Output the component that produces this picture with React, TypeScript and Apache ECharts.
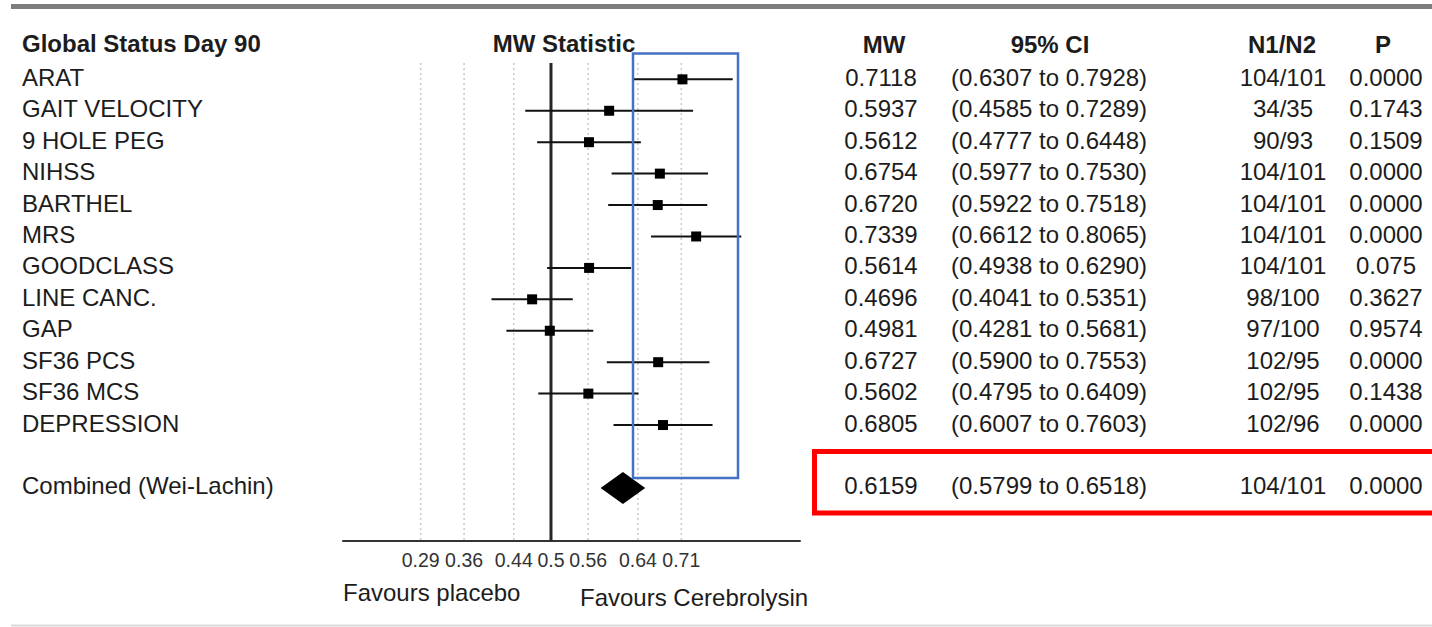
import React, { useEffect, useRef } from "react";
import * as echarts from "echarts";

const OUTCOMES = ["ARAT", "GAIT VELOCITY", "9 HOLE PEG", "NIHSS", "BARTHEL", "MRS", "GOODCLASS", "LINE CANC.", "GAP", "SF36 PCS", "SF36 MCS", "DEPRESSION"];
const MW = [0.7118, 0.5937, 0.5612, 0.6754, 0.672, 0.7339, 0.5614, 0.4696, 0.4981, 0.6727, 0.5602, 0.6805];
const CI_LOW = [0.6307, 0.4585, 0.4777, 0.5977, 0.5922, 0.6612, 0.4938, 0.4041, 0.4281, 0.59, 0.4795, 0.6007];
const CI_HIGH = [0.7928, 0.7289, 0.6448, 0.753, 0.7518, 0.8065, 0.629, 0.5351, 0.5681, 0.7553, 0.6409, 0.7603];
const N1N2 = ["104/101", "34/35", "90/93", "104/101", "104/101", "104/101", "104/101", "98/100", "97/100", "102/95", "102/95", "102/96"];
const P_VALUES = ["0.0000", "0.1743", "0.1509", "0.0000", "0.0000", "0.0000", "0.075", "0.3627", "0.9574", "0.0000", "0.1438", "0.0000"];

const COMBINED_LABEL = "Combined (Wei-Lachin)";
const COMBINED_MW = 0.6159;
const COMBINED_LOW = 0.5799;
const COMBINED_HIGH = 0.6518;
const COMBINED_N = "104/101";
const COMBINED_P = "0.0000";
const COMBINED_ROW = 13;

const TICKS = [0.29, 0.36, 0.44, 0.5, 0.56, 0.64, 0.71];
const NULL_VALUE = 0.5;

const FONT = '"Liberation Sans", Arial, Helvetica, sans-serif';
const TXT = "#1c1c1c";
const FS = 24;

const fmt4 = (v: number) => v.toFixed(4);

export default function App() {
  const ref = useRef<HTMLDivElement>(null);

  useEffect(() => {
    const chart = echarts.init(ref.current!, null, { renderer: "svg" });

    const rows = OUTCOMES.map((_, i) => [MW[i], i, CI_LOW[i], CI_HIGH[i]]);

    const option: any = {
      animation: false,
      backgroundColor: "#ffffff",
      grid: { left: 343, width: 457, top: 63, height: 478 },
      xAxis: {
        type: "value",
        min: 0.1649,
        max: 0.9012,
        axisLine: { show: true, onZero: false, lineStyle: { color: "#333", width: 2 } },
        axisTick: { show: false },
        splitLine: { show: false },
        axisLabel: {
          customValues: TICKS,
          formatter: (v: number) => String(v),
          fontSize: 19.5,
          color: "#333",
          margin: 9,
          fontFamily: FONT,
        },
      },
      yAxis: { type: "value", inverse: true, min: -0.52, max: 14.69, show: false },
      series: [
        {
          // vertical guide lines at the tick values and the null line
          type: "custom",
          z: 1,
          silent: true,
          data: TICKS.map((t) => [t]),
          encode: { x: 0 },
          renderItem: (params: any, api: any) => {
            const t = api.value(0);
            const x = api.coord([t, 0])[0];
            const cs = params.coordSys;
            const isNull = t === NULL_VALUE;
            return {
              type: "line",
              shape: { x1: x, y1: cs.y, x2: x, y2: cs.y + cs.height },
              style: isNull
                ? { stroke: "#262626", lineWidth: 3 }
                : { stroke: "#c8c8c8", lineWidth: 1.5, lineDash: [2, 3] },
              z2: isNull ? 5 : 0,
            };
          },
        },
        {
          type: "custom",
          z: 3,
          silent: true,
          data: rows,
          encode: { x: [0, 2, 3], y: 1 },
          renderItem: (params: any, api: any) => {
            const i = api.value(1);
            const lo = api.coord([api.value(2), i]);
            const hi = api.coord([api.value(3), i]);
            const c = api.coord([api.value(0), i]);
            return {
              type: "group",
              children: [
                { type: "line", shape: { x1: lo[0], y1: lo[1], x2: hi[0], y2: hi[1] }, style: { stroke: "#111", lineWidth: 2 } },
                { type: "rect", shape: { x: c[0] - 5, y: c[1] - 5, width: 10, height: 10 }, style: { fill: "#000" } },
              ],
            };
          },
        },
        {
          type: "custom",
          z: 3,
          silent: true,
          data: [[COMBINED_MW, COMBINED_ROW, COMBINED_LOW, COMBINED_HIGH]],
          encode: { x: [0, 2, 3], y: 1 },
          renderItem: (params: any, api: any) => {
            const i = api.value(1);
            const lo = api.coord([api.value(2), i]);
            const hi = api.coord([api.value(3), i]);
            const c = api.coord([api.value(0), i]);
            return {
              type: "polygon",
              shape: {
                points: [
                  [lo[0], lo[1]],
                  [c[0], c[1] - 16],
                  [hi[0], hi[1]],
                  [c[0], c[1] + 16],
                ],
              },
              style: { fill: "#000" },
            };
          },
        },
      ],
    };

    chart.setOption(option);

    const rowY = (i: number) => chart.convertToPixel({ yAxisIndex: 0 }, i) as number;
    const text = (x: number, y: number, s: string, align: string, bold = false, size = FS) => ({
      type: "text",
      x,
      y,
      silent: true,
      style: {
        text: s,
        fill: TXT,
        font: `${bold ? "bold " : ""}${size}px ${FONT}`,
        textAlign: align,
        textVerticalAlign: "middle",
      },
    });

    const COL_MW = 881;
    const COL_CI = 1049;
    const COL_N = 1283;
    const COL_P = 1386;
    const LABEL_X = 22;
    const HEADER_Y = 43;

    const graphics: any[] = [
      { type: "line", silent: true, shape: { x1: 11, y1: 6.5, x2: 1432, y2: 6.5 }, style: { stroke: "#7d7d7d", lineWidth: 5 } },
      { type: "line", silent: true, shape: { x1: 11, y1: 625.5, x2: 1432, y2: 625.5 }, style: { stroke: "#d9d9d9", lineWidth: 2 } },
      text(LABEL_X, HEADER_Y, "Global Status Day 90", "left", true),
      text(564, HEADER_Y, "MW Statistic", "center", true),
      text(884, HEADER_Y + 1, "MW", "center", true),
      text(1050, HEADER_Y + 1, "95% CI", "center", true),
      text(1282, HEADER_Y + 1, "N1/N2", "center", true),
      text(1383, HEADER_Y + 1, "P", "center", true),
    ];

    OUTCOMES.forEach((name, i) => {
      const y = rowY(i) - 2;
      graphics.push(text(LABEL_X, y, name, "left"));
      graphics.push(text(COL_MW, y, fmt4(MW[i]), "center"));
      graphics.push(text(COL_CI, y, `(${fmt4(CI_LOW[i])} to ${fmt4(CI_HIGH[i])})`, "center"));
      graphics.push(text(COL_N, y, N1N2[i], "center"));
      graphics.push(text(COL_P, y, P_VALUES[i], "center"));
    });

    const cy = rowY(COMBINED_ROW) - 2;
    graphics.push(text(LABEL_X, cy, COMBINED_LABEL, "left"));
    graphics.push(text(COL_MW, cy, fmt4(COMBINED_MW), "center"));
    graphics.push(text(COL_CI, cy, `(${fmt4(COMBINED_LOW)} to ${fmt4(COMBINED_HIGH)})`, "center"));
    graphics.push(text(COL_N, cy, COMBINED_N, "center"));
    graphics.push(text(COL_P, cy, COMBINED_P, "center"));

    graphics.push(text(343, 592, "Favours placebo", "left"));
    graphics.push(text(580, 597, "Favours Cerebrolysin", "left"));

    graphics.push({
      type: "rect",
      silent: true,
      shape: { x: 633, y: 53.5, width: 105, height: 424.5 },
      style: { fill: "none", stroke: "#4472c4", lineWidth: 2.5 },
      z: 10,
    });
    graphics.push({
      type: "rect",
      silent: true,
      shape: { x: 814.5, y: 451.5, width: 700, height: 61.5 },
      style: { fill: "none", stroke: "#ff0000", lineWidth: 5 },
      z: 10,
    });

    chart.setOption({ graphic: graphics });

    return () => chart.dispose();
  }, []);

  return <div ref={ref} style={{ position: "fixed", left: 0, top: 0, width: 1432, height: 627 }} />;
}
